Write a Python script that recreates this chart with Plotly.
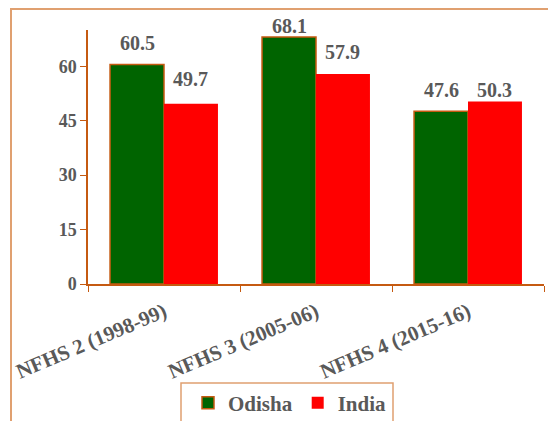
import plotly.graph_objects as go

categories = ["NFHS 2 (1998-99)", "NFHS 3 (2005-06)", "NFHS 4 (2015-16)"]
odisha = [60.5, 68.1, 47.6]
india = [49.7, 57.9, 50.3]
y_ticks = [0, 15, 30, 45, 60]

# label vertical offsets (pixels above bar top), as placed in the reference
odisha_label_shift = [21, 11, 21]
india_label_shift = [25, 22, 11]

FONT = "Book Antiqua, Palatino Linotype, Liberation Serif, serif"
GRAY = "#595959"
ORANGE = "#C55A11"

W, H = 548, 421
ml, mr, mt, mb = 88, 4, 30, 137
bargap = 0.29
plot_w = W - ml - mr
bar_w = plot_w / len(categories) * (1 - bargap) / 2

fig = go.Figure()
fig.add_trace(go.Bar(name="Odisha", x=categories, y=odisha,
                     marker=dict(color="#006400", line=dict(color=ORANGE, width=1.5))))
fig.add_trace(go.Bar(name="India", x=categories, y=india,
                     marker=dict(color="#FF0000", line=dict(width=0))))

ann = []
for i, c in enumerate(categories):
    for vals, shifts, sgn in ((odisha, odisha_label_shift, -1), (india, india_label_shift, 1)):
        ann.append(dict(x=c, y=vals[i], xref="x", yref="y", text=f"{vals[i]:.1f}",
                        showarrow=False, xshift=sgn * bar_w / 2, yshift=shifts[i],
                        yanchor="middle", xanchor="center",
                        font=dict(family=FONT, size=20, color=GRAY, weight="bold")))

ph = H - mt - mb
def px_to_paper_y(py):
    return (H - mb - py) / ph
def px_to_paper_x(px):
    return (px - ml) / plot_w

shapes = [
    dict(type="rect", xref="paper", yref="paper",
         x0=px_to_paper_x(11), x1=px_to_paper_x(560),
         y0=px_to_paper_y(440), y1=px_to_paper_y(9),
         line=dict(color="#E0A070", width=2), fillcolor="rgba(0,0,0,0)", layer="below"),
    dict(type="rect", xref="paper", yref="paper",
         x0=px_to_paper_x(181), x1=px_to_paper_x(393),
         y0=px_to_paper_y(440), y1=px_to_paper_y(383),
         line=dict(color="#E0A070", width=1.5), fillcolor="rgba(0,0,0,0)"),
]

fig.update_layout(
    width=W, height=H,
    margin=dict(l=ml, r=mr, t=mt, b=mb, autoexpand=False),
    paper_bgcolor="white", plot_bgcolor="white",
    barmode="group", bargap=bargap, bargroupgap=0,
    font=dict(family=FONT, color=GRAY),
    showlegend=True,
    legend=dict(orientation="h", x=px_to_paper_x(290), xanchor="center",
                y=px_to_paper_y(403), yanchor="middle",
                font=dict(family=FONT, size=21, color=GRAY, weight="bold"),
                bgcolor="rgba(0,0,0,0)", itemwidth=30),
    annotations=ann,
    shapes=shapes,
)
fig.update_yaxes(range=[0, 70], tickvals=y_ticks, showgrid=False, zeroline=False,
                 showline=True, linecolor=ORANGE, linewidth=1.5,
                 ticks="outside", ticklen=6, tickcolor=ORANGE,
                 tickfont=dict(family=FONT, size=18, color=GRAY, weight="bold"))
fig.update_xaxes(showgrid=False, showline=True, linecolor=ORANGE, linewidth=1.5,
                 ticks="outside", ticklen=6, tickcolor=ORANGE, tickson="boundaries",
                 tickangle=-23, ticklabelstandoff=6,
                 tickfont=dict(family=FONT, size=21, color=GRAY, weight="bold"))

fig.write_html("out.html", post_script="document.body.style.margin='0px';",
               config={"displayModeBar": False})
